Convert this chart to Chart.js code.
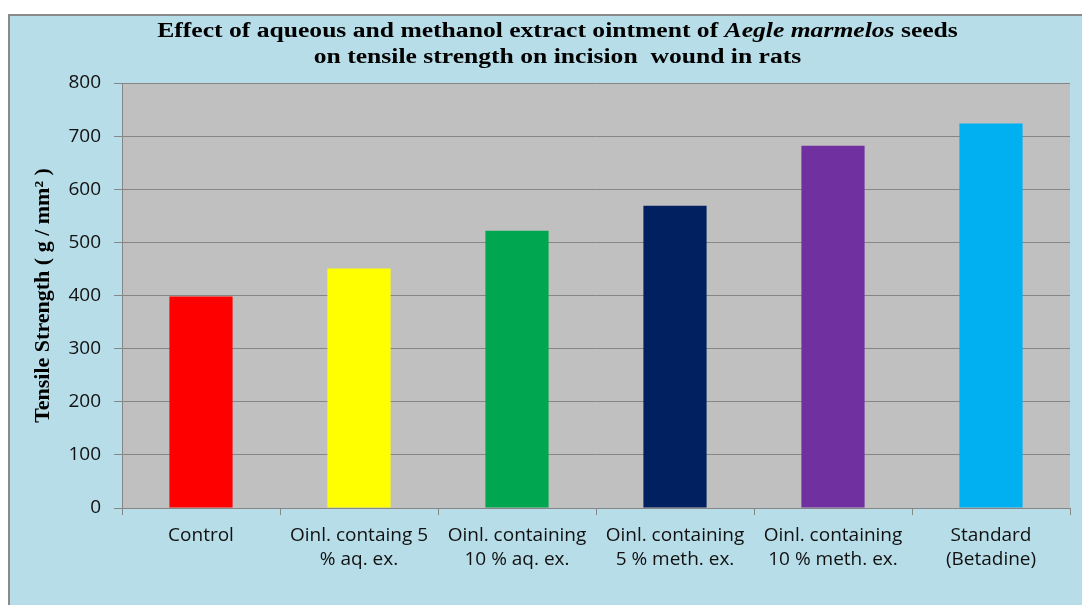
<!DOCTYPE html>
<html>
<head>
<meta charset="utf-8">
<script src="https://cdn.jsdelivr.net/npm/chart.js@4/dist/chart.umd.min.js"></script>
<style>
  html, body { margin: 0; padding: 0; background: #fff; }
  canvas { display: block; }
</style>
</head>
<body>
<canvas id="strengthChart" width="1082" height="605"></canvas>
<script>
// data
const groups = [
  ["Control"],
  ["Oinl. containg 5", "% aq. ex."],
  ["Oinl. containing", "10 % aq. ex."],
  ["Oinl. containing", "5 % meth. ex."],
  ["Oinl. containing", "10 % meth. ex."],
  ["Standard", "(Betadine)"]
];
const strength = [398, 451, 522, 569, 682, 724];
const barColors = ["#FF0000", "#FFFF00", "#00A650", "#002060", "#7030A0", "#00B0F0"];
const yTicks = [0, 100, 200, 300, 400, 500, 600, 700, 800];

const titleLines = [
  [["Effect of aqueous and methanol extract ointment of ", false], ["Aegle marmelos", true], [" seeds", false]],
  [["on tensile strength on incision  wound in rats", false]]
];

const gridGrey = "#868686";

// light blue frame, grey plot area and the two-line title with its italic part
const framePlugin = {
  id: "frame",
  beforeDraw(chart) {
    const ctx = chart.ctx, a = chart.chartArea;
    ctx.save();
    ctx.fillStyle = "#fff";
    ctx.fillRect(0, 0, chart.width, chart.height);
    ctx.fillStyle = "#B7DDE8";
    ctx.fillRect(8, 14, chart.width - 8, chart.height - 14);
    ctx.strokeStyle = "#8a8a8a";
    ctx.lineWidth = 2;
    ctx.beginPath();
    ctx.moveTo(9, chart.height);
    ctx.lineTo(9, 15);
    ctx.lineTo(chart.width, 15);
    ctx.stroke();
    ctx.fillStyle = "#C0C0C0";
    ctx.fillRect(a.left, a.top, a.right - a.left, a.bottom - a.top);
    ctx.restore();
  },
  afterDraw(chart) {
    const ctx = chart.ctx, sx = 1.28, cx = 557.5, base = [37, 63];
    ctx.save();
    ctx.fillStyle = "#000";
    ctx.textBaseline = "alphabetic";
    titleLines.forEach((segs, li) => {
      let w = 0;
      const fonts = segs.map(s => (s[1] ? "italic " : "") + "bold 20px 'Liberation Serif', 'DejaVu Serif', serif");
      segs.forEach((s, i) => { ctx.font = fonts[i]; w += ctx.measureText(s[0]).width; });
      ctx.save();
      ctx.translate(cx, base[li]);
      ctx.scale(sx, 1);
      let x = -w / 2;
      segs.forEach((s, i) => {
        ctx.font = fonts[i];
        ctx.textAlign = "left";
        ctx.fillText(s[0], x, 0);
        x += ctx.measureText(s[0]).width;
      });
      ctx.restore();
    });
    ctx.restore();
  }
};

new Chart("strengthChart", {
  type: "bar",
  data: {
    labels: groups,
    datasets: [{
      data: strength,
      backgroundColor: barColors,
      borderWidth: 0,
      barPercentage: 0.4,
      categoryPercentage: 1
    }]
  },
  options: {
    responsive: false,
    animation: false,
    devicePixelRatio: 1,
    layout: { padding: { left: 0, right: 12, top: 83, bottom: 0 } },
    plugins: {
      legend: { display: false },
      tooltip: { enabled: false },
      title: { display: false }
    },
    scales: {
      x: {
        afterFit: s => { s.height = 97; },
        grid: { drawOnChartArea: false, color: gridGrey, tickLength: 7, offset: true },
        border: { color: gridGrey, width: 1 },
        ticks: {
          autoSkip: false, maxRotation: 0, minRotation: 0, padding: 8,
          color: "#111",
          font: { family: "'Open Sans', sans-serif", size: 19, lineHeight: 1.29 }
        }
      },
      y: {
        min: 0, max: 800,
        afterFit: s => { s.width = 122; },
        afterBuildTicks: s => { s.ticks = yTicks.map(v => ({ value: v })); },
        grid: { color: gridGrey, tickLength: 8 },
        border: { color: gridGrey, width: 1 },
        ticks: {
          padding: 13, color: "#111",
          font: { family: "'Open Sans', sans-serif", size: 19 }
        },
        title: {
          display: true,
          text: "Tensile Strength ( g / mm² )",
          color: "#000",
          padding: { top: 30, bottom: 0 },
          font: { family: "'Liberation Serif', serif", size: 22, weight: "bold", lineHeight: 1.2 }
        }
      }
    }
  },
  plugins: [framePlugin]
});
</script>
</body>
</html>
